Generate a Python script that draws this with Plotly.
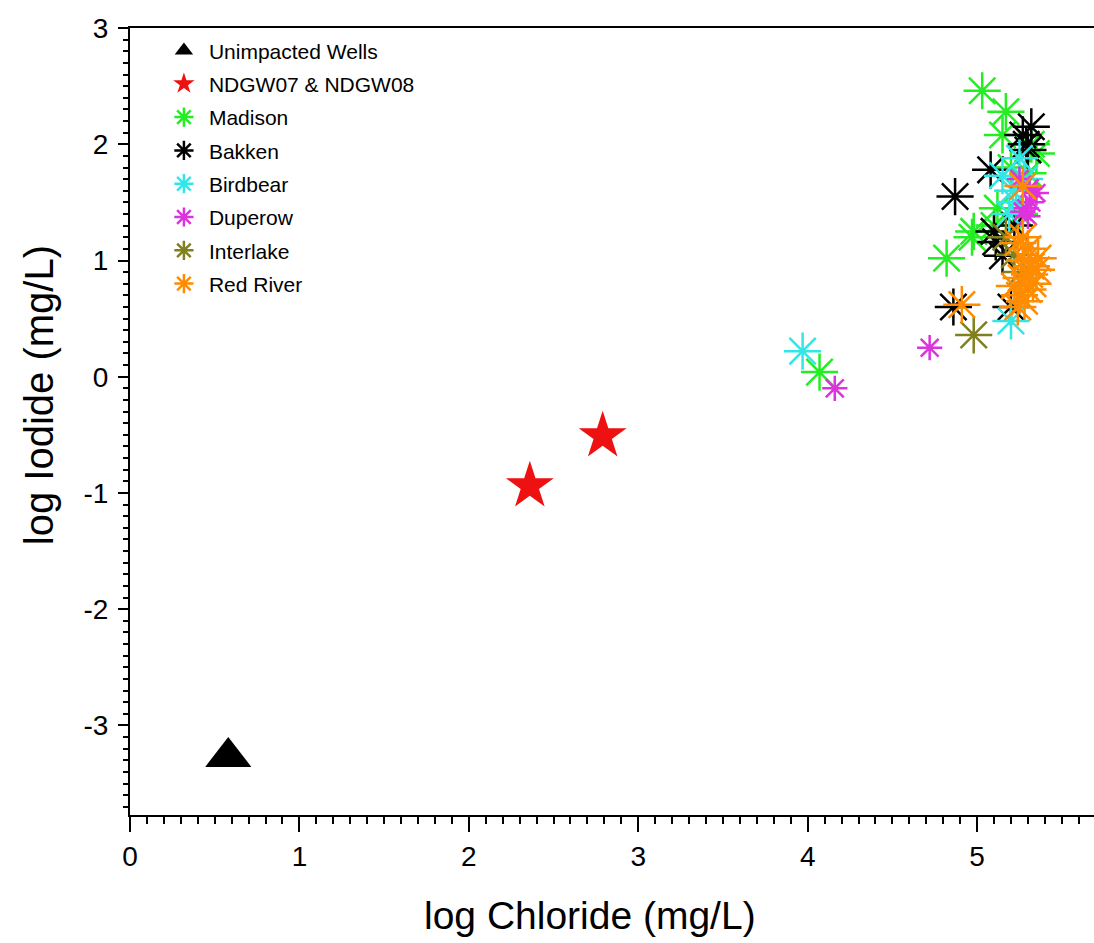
import plotly.graph_objects as go

# ---- data (log Chloride, log Iodide) ----
unimp_x = [0.58]
unimp_y = [-3.27]

ndgw_x = [2.36, 2.79]
ndgw_y = [-0.94, -0.51]

madison_x = [4.07, 4.82, 4.97, 5.03, 5.17, 5.15, 5.10, 5.35, 5.20, 5.30, 5.25, 5.12, 5.32, 4.98]
madison_y = [0.04, 1.02, 1.20, 2.46, 2.28, 2.08, 1.30, 1.92, 1.80, 1.75, 1.40, 1.45, 2.00, 1.25]

bakken_x = [4.87, 4.86, 5.08, 5.27, 5.32, 5.29, 5.11, 5.15, 5.20, 5.22, 5.30, 5.10]
bakken_y = [1.55, 0.60, 1.78, 2.08, 2.15, 2.00, 1.16, 1.04, 0.60, 1.30, 1.95, 1.25]

birdbear_x = [3.97, 5.25, 5.15, 5.21, 5.20, 5.23, 5.28, 5.19]
birdbear_y = [0.22, 1.88, 1.73, 1.60, 0.48, 1.50, 1.70, 1.40]

duperow_x = [4.16, 4.72, 5.29, 5.35, 5.27, 5.32, 5.25, 5.30, 5.31]
duperow_y = [-0.10, 0.25, 1.45, 1.58, 1.42, 1.50, 1.70, 1.38, 1.62]

interlake_x = [4.98, 5.17, 5.22, 5.26]
interlake_y = [0.36, 1.20, 1.05, 0.90]

redriver_x = [4.91, 5.27, 5.24, 5.30, 5.28, 5.32, 5.26, 5.35, 5.22, 5.30, 5.25, 5.33, 5.28, 5.24, 5.36, 5.27, 5.31]
redriver_y = [0.62, 1.64, 1.15, 1.10, 1.00, 0.95, 0.85, 0.92, 0.78, 0.75, 0.70, 0.80, 0.65, 0.60, 1.02, 1.20, 0.88]

x_tickvals = [0, 1, 2, 3, 4, 5]
x_ticktext = ["0", "1", "2", "3", "4", "5"]
y_tickvals = [-3, -2, -1, 0, 1, 2, 3]
y_ticktext = ["-3", "-2", "-1", "0", "1", "2", "3"]

FONT = "Liberation Sans, Arial, sans-serif"

fig = go.Figure()

def star_trace(name, xs, ys, color, size):
    return go.Scatter(x=xs, y=ys, mode="markers", name=name, legendgroup=name,
                      marker=dict(symbol="asterisk-open", size=size,
                                  line=dict(color=color, width=2.5), color=color))

fig.add_trace(go.Scatter(x=unimp_x, y=unimp_y, mode="markers", name="Unimpacted Wells",
                         legendgroup="u",
                         marker=dict(symbol="triangle-up", size=40, color="black")))
fig.add_trace(go.Scatter(x=ndgw_x, y=ndgw_y, mode="markers", name="NDGW07 & NDGW08",
                         legendgroup="n",
                         marker=dict(symbol="star", size=36, color="#ee1111")))
fig.add_trace(star_trace("Madison", madison_x, madison_y, "#22ee22", 31))
fig.add_trace(star_trace("Bakken", bakken_x, bakken_y, "black", 31))
fig.add_trace(star_trace("Birdbear", birdbear_x, birdbear_y, "#33e6e6", 31))
fig.add_trace(star_trace("Duperow", duperow_x, duperow_y, "#dd33dd", 21))
fig.add_trace(star_trace("Interlake", interlake_x, interlake_y, "#808020", 31))
fig.add_trace(star_trace("Red River", redriver_x, redriver_y, "#ff8c00", 31))

fig.update_layout(
    width=1094, height=943,
    margin=dict(l=130, r=0, t=28, b=128),
    plot_bgcolor="white", paper_bgcolor="white",
    font=dict(family=FONT, color="black"),
    showlegend=True,
    legend=dict(x=0.03, y=0.997, xanchor="left", yanchor="top",
                font=dict(size=21, family=FONT), bgcolor="rgba(0,0,0,0)",
                traceorder="grouped", tracegroupgap=3, itemwidth=40),
    xaxis=dict(range=[0, 5.69], tickvals=x_tickvals, ticktext=x_ticktext,
               showgrid=False, zeroline=False,
               showline=True, linecolor="black", linewidth=2, mirror=True,
               ticks="outside", ticklen=15, tickwidth=2, tickcolor="black",
               tickfont=dict(size=28, family=FONT),
               minor=dict(dtick=0.1, tick0=0, ticks="outside", ticklen=7, tickwidth=1.5, tickcolor="black")),
    yaxis=dict(range=[-3.77, 3], tickvals=y_tickvals, ticktext=y_ticktext,
               showgrid=False, zeroline=False,
               showline=True, linecolor="black", linewidth=2,
               ticks="outside", ticklen=10, tickwidth=2, tickcolor="black",
               tickfont=dict(size=28, family=FONT), ticklabelstandoff=4,
               minor=dict(dtick=0.1, tick0=0, ticks="outside", ticklen=5, tickwidth=1.5, tickcolor="black")),
    annotations=[
        dict(text="log Chloride (mg/L)", xref="paper", yref="paper", x=0.477, y=-0.128,
             xanchor="center", yanchor="middle", showarrow=False,
             font=dict(size=39, family=FONT)),
        dict(text="log Iodide (mg/L)", xref="paper", yref="paper", x=-0.095, y=0.534,
             xanchor="center", yanchor="middle", showarrow=False, textangle=-90,
             font=dict(size=40, family=FONT)),
    ],
)

fig.write_html("out.html")
